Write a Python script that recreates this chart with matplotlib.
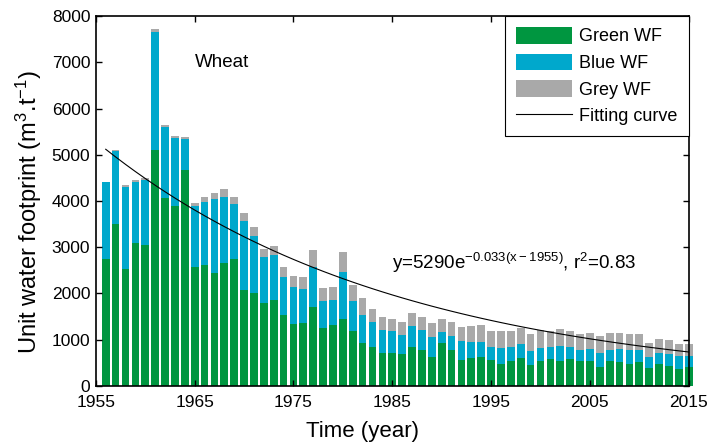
import numpy as np
import matplotlib
matplotlib.use("Agg")
import matplotlib.pyplot as plt
from matplotlib.patches import Patch
from matplotlib.lines import Line2D

plt.rcParams["font.family"] = ["Liberation Sans", "DejaVu Sans"]
plt.rcParams["mathtext.default"] = "regular"

years = np.arange(1956, 2016)

# cumulative tops of each layer, read per year (m3/t)
green_top = [2740, 3510, 2530, 3080, 3050, 5110, 4070, 3900, 4660, 2560,
             2610, 2450, 2660, 2740, 2080, 2010, 1780, 1860, 1540, 1345,
             1356, 1710, 1255, 1320, 1443, 1183, 931, 844, 714, 714,
             685, 844, 772, 620, 931, 772, 556, 599, 620, 548,
             462, 527, 592, 440, 527, 570, 527, 570, 527, 527,
             397, 527, 505, 462, 505, 375, 462, 418, 354, 397]
blue_top = [4400, 5070, 4310, 4420, 4460, 7646, 5590, 5370, 5350, 3884,
            3971, 4051, 4079, 3942, 3574, 3249, 2780, 2838, 2361, 2144,
            2092, 2576, 1840, 1861, 2468, 1840, 1537, 1378, 1205, 1183,
            1097, 1291, 1205, 1053, 1162, 1075, 967, 945, 945, 830,
            815, 830, 895, 743, 808, 830, 851, 830, 765, 786,
            700, 765, 786, 765, 765, 613, 700, 678, 635, 635]
grey_top = [4410, 5112, 4354, 4462, 4505, 7711, 5639, 5415, 5394, 3949,
            4079, 4166, 4267, 4094, 3733, 3444, 2968, 3032, 2563, 2368,
            2359, 2944, 2121, 2143, 2893, 2179, 1905, 1667, 1486, 1443,
            1378, 1573, 1486, 1356, 1443, 1378, 1270, 1291, 1313, 1183,
            1183, 1183, 1248, 1111, 1212, 1183, 1219, 1176, 1111, 1133,
            1068, 1140, 1140, 1111, 1111, 916, 1003, 981, 895, 895]

# exponential fit y = A * exp(-B * (x - X0))
FIT_A = 5290
FIT_B = 0.033
FIT_X0 = 1955
FIT_R2 = 0.83

GREEN = "#009640"
BLUE = "#00a8cc"
GREY = "#a9a9a9"

green = np.array(green_top, dtype=float)
blue = np.array(blue_top, dtype=float) - green
grey = np.array(grey_top, dtype=float) - green - blue

fig = plt.figure(figsize=(7.1, 4.48), dpi=100)
ax = fig.add_axes([0.135, 0.139, 0.835, 0.825])

width = 0.78
ax.bar(years, green, width, color=GREEN, linewidth=0, clip_on=False)
ax.bar(years, blue, width, bottom=green, color=BLUE, linewidth=0, clip_on=False)
ax.bar(years, grey, width, bottom=green + blue, color=GREY, linewidth=0, clip_on=False)

fit = FIT_A * np.exp(-FIT_B * (years - FIT_X0))
ax.plot(years, fit, color="black", linewidth=0.8)

ax.set_xlim(1955, 2015)
ax.set_ylim(0, 8000)
ax.set_xticks(np.arange(1955, 2016, 10))
ax.set_yticks(np.arange(0, 8001, 1000))
ax.tick_params(direction="in", top=True, right=True, length=4, width=1,
               labelsize=12.5)
ax.tick_params(axis="x", pad=7)
ax.tick_params(axis="y", pad=4)
for side in ax.spines.values():
    side.set_linewidth(1.2)
    side.set_zorder(5)

ax.set_xlabel("Time (year)", fontsize=16, labelpad=5)
ax.xaxis.set_label_coords(0.45, -0.095)
ax.set_ylabel("Unit water footprint (m$^3$.t$^{-1}$)", fontsize=17, labelpad=6)
ax.yaxis.set_label_coords(-0.088, 0.47)

ax.text(1965, 7000, "Wheat", fontsize=13.5, ha="left", va="center")
ax.text(1985, 2650,
        f"y={FIT_A}e$^{{-{FIT_B}(x-{FIT_X0})}}$, r$^2$={FIT_R2}",
        fontsize=13.5, ha="left", va="center")

handles = [Patch(facecolor=GREEN, edgecolor="none"),
           Patch(facecolor=BLUE, edgecolor="none"),
           Patch(facecolor=GREY, edgecolor="none"),
           Line2D([], [], color="black", linewidth=0.8)]
labels = ["Green WF", "Blue WF", "Grey WF", "Fitting curve"]
leg = ax.legend(handles, labels, loc="upper right", fontsize=13,
                borderaxespad=0, fancybox=False, framealpha=1,
                handlelength=3.1, handleheight=1.05, handletextpad=0.4,
                labelspacing=0.45, borderpad=0.6)
leg.get_frame().set_edgecolor("black")
leg.get_frame().set_linewidth(0.8)

fig.savefig("out.png", dpi=100)
